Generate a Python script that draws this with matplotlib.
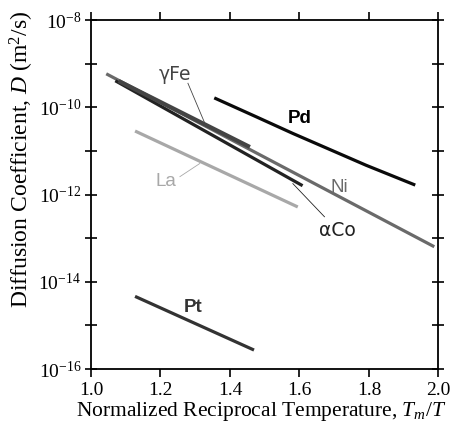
import numpy as np
import matplotlib
matplotlib.use("Agg")
import matplotlib.pyplot as plt
from matplotlib.ticker import FixedLocator, FuncFormatter

plt.rcParams['mathtext.fontset'] = 'custom'
plt.rcParams['mathtext.rm'] = 'Liberation Serif'
plt.rcParams['mathtext.it'] = 'Liberation Serif:italic'

# x = Tm/T, y = log10(D)
pd_x = [1.359, 1.476, 1.581, 1.792, 1.929]
pd_y = [-9.80, -10.22, -10.60, -11.33, -11.77]
ni_x = [1.048, 1.984]
ni_y = [-9.25, -13.18]
fe_x = [1.085, 1.452]
fe_y = [-9.42, -10.89]
co_x = [1.074, 1.605]
co_y = [-9.41, -11.78]
la_x = [1.131, 1.591]
la_y = [-10.56, -12.27]
pt_x = [1.131, 1.465]
pt_y = [-14.35, -15.55]

fig = plt.figure(figsize=(4.52, 4.38), dpi=100)
ax = fig.add_axes([0.2013, 0.1575, 0.7687, 0.7968])

lw = 2.3
ax.plot(ni_x, 10**np.array(ni_y), color='#6a6a6a', lw=lw)
ax.plot(co_x, 10**np.array(co_y), color='#222222', lw=lw)
ax.plot(fe_x, 10**np.array(fe_y), color='#444444', lw=3.0)
ax.plot(pd_x, 10**np.array(pd_y), color='#0a0a0a', lw=lw)
ax.plot(la_x, 10**np.array(la_y), color='#a8a8a8', lw=lw)
ax.plot(pt_x, 10**np.array(pt_y), color='#333333', lw=lw)

# labels and leaders
sans = 'Liberation Sans'
fs = 13.5
ax.text(1.241, 10**-9.24, 'γFe', color='#444444', fontsize=fs, family='DejaVu Sans', ha='center', va='center')
ax.plot([1.279, 1.332], [10**-9.45, 10**-10.45], color='#444444', lw=0.6)
ax.text(1.60, 10**-10.25, 'Pd', color='#000000', fontsize=fs, family=sans, weight='bold', ha='center', va='center')
ax.text(1.716, 10**-11.85, 'Ni', color='#6a6a6a', fontsize=fs, family=sans, ha='center', va='center')
ax.text(1.217, 10**-11.71, 'La', color='#a8a8a8', fontsize=fs, family=sans, ha='center', va='center')
ax.plot([1.256, 1.313], [10**-11.59, 10**-11.29], color='#a8a8a8', lw=0.6)
ax.text(1.71, 10**-12.82, 'αCo', color='#222222', fontsize=fs, family='DejaVu Sans', ha='center', va='center')
ax.plot([1.581, 1.672], [10**-11.75, 10**-12.51], color='#222222', lw=0.6)
ax.text(1.294, 10**-14.59, 'Pt', color='#333333', fontsize=fs, family=sans, weight='bold', ha='center', va='center')

ax.set_yscale('log')
ax.set_xlim(1.0, 2.0)
ax.set_ylim(1e-16, 1e-8)

ax.xaxis.set_major_locator(FixedLocator([1.0, 1.2, 1.4, 1.6, 1.8, 2.0]))
ax.xaxis.set_major_formatter(FuncFormatter(lambda v, p: f'{v:.1f}'))
ax.yaxis.set_major_locator(FixedLocator([10.0**k for k in range(-16, -7)]))
ax.yaxis.set_minor_locator(FixedLocator([]))

def yfmt(v, p):
    e = int(round(np.log10(v)))
    if e % 2:
        return ''
    return r'$\mathregular{10^{%d}}$' % e

ax.yaxis.set_major_formatter(FuncFormatter(yfmt))
ax.tick_params(which='major', direction='out', length=6, width=1.2,
               top=True, right=True, labelsize=14, pad=3)
ax.tick_params(axis='y', which='major', right=True, direction='inout', length=8)
for lab in ax.get_xticklabels() + ax.get_yticklabels():
    lab.set_family('Liberation Serif')
for s in ax.spines.values():
    s.set_linewidth(1.3)

ax.set_xlabel(r'Normalized Reciprocal Temperature, $T_m/T$', family='Liberation Serif', fontsize=15.5)
ax.set_ylabel(r'Diffusion Coefficient, $D$ (m$^2$/s)', family='Liberation Serif', fontsize=17)
ax.xaxis.set_label_coords(0.491, -0.088)
ax.yaxis.set_label_coords(-0.158, 0.6)

fig.savefig('out.png', dpi=100)
